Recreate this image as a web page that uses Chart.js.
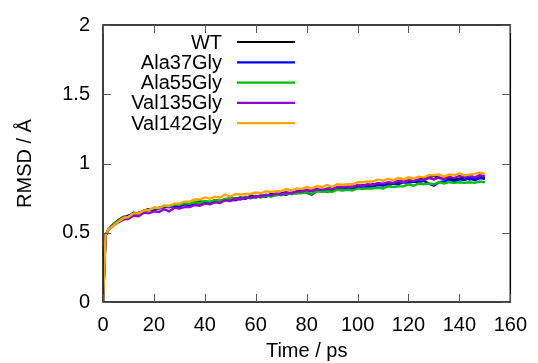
<!DOCTYPE html>
<html>
<head>
<meta charset="utf-8">
<script src="https://cdn.jsdelivr.net/npm/chart.js@4"></script>
<style>
    html, body { margin: 0; padding: 0; background: #fff; }
    #wrap { width: 538px; height: 363px; }
</style>
</head>
<body>
<div id="wrap"><canvas id="rmsdChart" width="538" height="363"></canvas></div>
<script>
// RMSD vs tempo

const times = [0, 1,
    2, 4, 6, 8, 10, 12, 14, 16, 18, 20,
    22, 24, 26, 28, 30, 32, 34, 36, 38, 40,
    42, 44, 46, 48, 50, 52, 54, 56, 58, 60,
    62, 64, 66, 68, 70, 72, 74, 76, 78, 80,
    82, 84, 86, 88, 90, 92, 94, 96, 98, 100,
    102, 104, 106, 108, 110, 112, 114, 116, 118, 120,
    122, 124, 126, 128, 130, 132, 134, 136, 138, 140,
    142, 144, 146, 148, 150];

const wt = [0, 0.48,
    0.52, 0.56, 0.59, 0.615, 0.62, 0.645, 0.64, 0.66, 0.67, 0.665,
    0.68, 0.69, 0.685, 0.70, 0.705, 0.71, 0.70, 0.715, 0.725, 0.72,
    0.72, 0.735, 0.73, 0.74, 0.75, 0.745, 0.755, 0.75, 0.765, 0.76,
    0.77, 0.765, 0.78, 0.775, 0.785, 0.79, 0.78, 0.795, 0.805, 0.80,
    0.805, 0.815, 0.80, 0.815, 0.825, 0.815, 0.83, 0.825, 0.835, 0.83,
    0.845, 0.835, 0.85, 0.845, 0.85, 0.86, 0.855, 0.865, 0.875, 0.87,
    0.875, 0.88, 0.895, 0.90, 0.91, 0.895, 0.89, 0.9, 0.885, 0.89,
    0.9, 0.885, 0.895, 0.905, 0.895];

const ala37 = [0, 0.48,
    0.52, 0.555, 0.585, 0.60, 0.625, 0.63, 0.645, 0.65, 0.67, 0.665,
    0.675, 0.685, 0.685, 0.695, 0.69, 0.705, 0.70, 0.715, 0.71, 0.72,
    0.715, 0.73, 0.725, 0.735, 0.74, 0.735, 0.75, 0.745, 0.76, 0.755,
    0.765, 0.76, 0.775, 0.77, 0.78, 0.775, 0.79, 0.785, 0.795, 0.79,
    0.775, 0.80, 0.81, 0.795, 0.81, 0.82, 0.81, 0.825, 0.82, 0.825,
    0.835, 0.83, 0.835, 0.845, 0.84, 0.845, 0.855, 0.85, 0.865, 0.86,
    0.87, 0.865, 0.875, 0.855, 0.84, 0.865, 0.87, 0.885, 0.87, 0.885,
    0.88, 0.895, 0.88, 0.895, 0.89];

const ala55 = [0, 0.48,
    0.52, 0.56, 0.585, 0.61, 0.615, 0.64, 0.64, 0.66, 0.66, 0.68,
    0.675, 0.695, 0.69, 0.705, 0.70, 0.715, 0.71, 0.72, 0.715, 0.73,
    0.725, 0.735, 0.73, 0.745, 0.74, 0.75, 0.745, 0.76, 0.75, 0.765,
    0.755, 0.77, 0.76, 0.775, 0.77, 0.785, 0.78, 0.785, 0.785, 0.795,
    0.78, 0.80, 0.795, 0.80, 0.795, 0.81, 0.805, 0.81, 0.805, 0.82,
    0.815, 0.82, 0.82, 0.825, 0.82, 0.835, 0.83, 0.835, 0.835, 0.85,
    0.84, 0.855, 0.85, 0.855, 0.85, 0.865, 0.855, 0.865, 0.86, 0.865,
    0.86, 0.865, 0.86, 0.87, 0.865];

const val135 = [0, 0.48,
    0.52, 0.55, 0.575, 0.595, 0.60, 0.625, 0.62, 0.645, 0.64, 0.655,
    0.65, 0.67, 0.655, 0.68, 0.675, 0.685, 0.685, 0.70, 0.695, 0.71,
    0.705, 0.72, 0.715, 0.735, 0.73, 0.745, 0.74, 0.755, 0.75, 0.765,
    0.76, 0.775, 0.77, 0.785, 0.775, 0.79, 0.785, 0.80, 0.795, 0.81,
    0.80, 0.815, 0.81, 0.82, 0.815, 0.83, 0.825, 0.835, 0.83, 0.845,
    0.84, 0.85, 0.845, 0.86, 0.855, 0.865, 0.86, 0.875, 0.865, 0.88,
    0.875, 0.885, 0.88, 0.895, 0.885, 0.90, 0.89, 0.905, 0.895, 0.91,
    0.90, 0.915, 0.90, 0.915, 0.91];

const val142 = [0, 0.48,
    0.52, 0.55, 0.58, 0.605, 0.615, 0.64, 0.64, 0.66, 0.665, 0.68,
    0.68, 0.695, 0.695, 0.71, 0.71, 0.725, 0.725, 0.74, 0.74, 0.755,
    0.745, 0.76, 0.755, 0.775, 0.76, 0.78, 0.775, 0.78, 0.78, 0.79,
    0.785, 0.80, 0.795, 0.80, 0.80, 0.815, 0.805, 0.82, 0.815, 0.83,
    0.82, 0.835, 0.83, 0.845, 0.83, 0.85, 0.845, 0.85, 0.85, 0.865,
    0.865, 0.87, 0.87, 0.885, 0.875, 0.89, 0.88, 0.895, 0.885, 0.90,
    0.89, 0.905, 0.90, 0.915, 0.915, 0.92, 0.905, 0.92, 0.915, 0.93,
    0.915, 0.92, 0.925, 0.935, 0.925];

const seriesLabels = ['WT', 'Ala37Gly', 'Ala55Gly', 'Val135Gly', 'Val142Gly'];
const seriesValues = [wt, ala37, ala55, val135, val142];
const seriesColors = ['#000000', '#0000ff', '#00c000', '#9400d3', '#ffa500'];

const FONT = "'Liberation Sans', Arial, sans-serif";
const FONT_SIZE = 20;

// moldura estilo gnuplot com ticks para dentro
const framePlugin = {
    id: 'frame',
    afterDatasetsDraw(chart) {
        const { ctx, chartArea: a, scales } = chart;
        ctx.save();
        ctx.strokeStyle = '#000';
        ctx.lineWidth = 1.5;
        ctx.strokeRect(a.left, a.top, a.right - a.left, a.bottom - a.top);
        ctx.lineWidth = 1;
        ctx.strokeStyle = '#555';
        const len = 8;
        scales.x.ticks.forEach(t => {
            const x = Math.round(scales.x.getPixelForValue(t.value)) + 0.5;
            ctx.beginPath();
            ctx.moveTo(x, a.bottom); ctx.lineTo(x, a.bottom - len);
            ctx.moveTo(x, a.top); ctx.lineTo(x, a.top + len);
            ctx.stroke();
        });
        scales.y.ticks.forEach(t => {
            const y = Math.round(scales.y.getPixelForValue(t.value)) + 0.5;
            ctx.beginPath();
            ctx.moveTo(a.left, y); ctx.lineTo(a.left + len, y);
            ctx.moveTo(a.right, y); ctx.lineTo(a.right - len, y);
            ctx.stroke();
        });
        ctx.restore();
    }
};

// legenda: texto alinhado à direita e amostra de linha à direita
const keyPlugin = {
    id: 'gnuKey',
    afterDraw(chart) {
        const { ctx } = chart;
        ctx.save();
        ctx.font = FONT_SIZE + 'px ' + FONT;
        ctx.textAlign = 'right';
        ctx.textBaseline = 'middle';
        chart.data.datasets.forEach((ds, i) => {
            const y = 42 + i * 20.3;
            ctx.fillStyle = '#000';
            ctx.fillText(ds.label, 222, y + 1);
            ctx.strokeStyle = ds.borderColor;
            ctx.lineWidth = 2.2;
            ctx.beginPath();
            ctx.moveTo(237, y); ctx.lineTo(295, y);
            ctx.stroke();
        });
        ctx.restore();
    }
};

const datasets = seriesLabels.map((label, i) => ({
    label: label,
    data: times.map((t, k) => ({ x: t, y: seriesValues[i][k] })),
    borderColor: seriesColors[i],
    backgroundColor: seriesColors[i],
    borderWidth: 2.4,
    pointRadius: 0,
    tension: 0,
    fill: false,
    order: seriesLabels.length - i
}));

new Chart(document.getElementById('rmsdChart').getContext('2d'), {
    type: 'line',
    data: { datasets: datasets },
    options: {
        responsive: false,
        animation: false,
        layout: { padding: { top: 21, right: 20, left: 0, bottom: 0 } },
        plugins: { legend: { display: false }, tooltip: { enabled: false } },
        scales: {
            x: {
                type: 'linear', min: 0, max: 160,
                grid: { display: false, drawTicks: false },
                border: { display: false },
                ticks: { stepSize: 20, color: '#000', padding: 11, font: { family: FONT, size: FONT_SIZE }, maxRotation: 0 },
                title: { display: true, text: 'Time / ps', color: '#000', font: { family: FONT, size: FONT_SIZE }, padding: { top: 0, bottom: 0 } },
                afterFit: (scale) => { scale.height = 61; }
            },
            y: {
                type: 'linear', min: 0, max: 2,
                grid: { display: false, drawTicks: false },
                border: { display: false },
                ticks: {
                    stepSize: 0.5, color: '#000', padding: 13, font: { family: FONT, size: FONT_SIZE },
                    callback: (v) => String(v)
                },
                title: { display: true, text: 'RMSD / Å', color: '#000', font: { family: FONT, size: FONT_SIZE }, padding: { top: 13, bottom: 0 } },
                afterFit: (scale) => { scale.width = 103; }
            }
        }
    },
    plugins: [framePlugin, keyPlugin]
});
</script>
</body>
</html>
